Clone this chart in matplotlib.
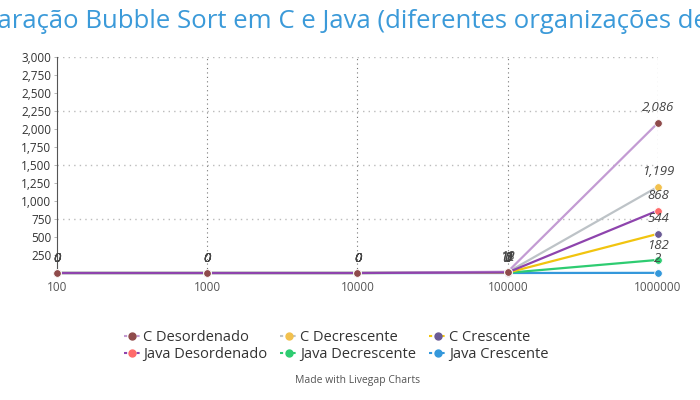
import matplotlib
matplotlib.use("Agg")
import matplotlib.pyplot as plt
from matplotlib.lines import Line2D
from matplotlib.ticker import FuncFormatter

plt.rcParams['font.family'] = ['Open Sans', 'DejaVu Sans']

sizes = ["100", "1000", "10000", "100000", "1000000"]
series_names = ["C Desordenado", "C Decrescente", "C Crescente",
                "Java Desordenado", "Java Decrescente", "Java Crescente"]
c_desordenado = [0, 0, 0, 18, 2086]
c_decrescente = [0, 0, 0, 12, 1199]
c_crescente = [0, 0, 0, 5, 544]
java_desordenado = [0, 0, 0, 8, 868]
java_decrescente = [0, 0, 0, 2, 182]
java_crescente = [0, 0, 0, 0, 2]
series_values = [c_desordenado, c_decrescente, c_crescente,
                 java_desordenado, java_decrescente, java_crescente]

line_colors = ["#c39bd3", "#bdc3c7", "#f1c40f", "#8e44ad", "#2ecc71", "#3498db"]
marker_colors = ["#8f4b4b", "#f2c14e", "#6b5b95", "#ff6b6b", "#2ecc71", "#3498db"]

fig = plt.figure(figsize=(7, 4), dpi=100)
ax = fig.add_axes([0.0814, 0.3175, 0.8586, 0.54])
xs = list(range(len(sizes)))

# linhas: Java Desordenado por cima no trecho plano
line_order = [5, 4, 2, 1, 0, 3]
for i in line_order:
    ax.plot(xs, series_values[i], color=line_colors[i], lw=1.6, zorder=3,
            solid_capstyle="butt", clip_on=False)
# marcadores: C Desordenado por cima
for i in reversed(range(len(series_names))):
    ax.plot(xs, series_values[i], ls="none", marker="o", ms=5.5,
            mfc=marker_colors[i], mec="white", mew=0.6, zorder=4, clip_on=False)
    for x, v in zip(xs, series_values[i]):
        ax.annotate(f"{v:,}", (x, v), xytext=(0, 6), textcoords="offset points",
                    ha="center", va="bottom", fontsize=9.5, style="italic",
                    color="#444444", zorder=5)

ax.set_xlim(0, 4)
ax.set_ylim(0, 3000)
ax.set_xticks(xs)
ax.set_xticklabels(sizes)
yt = list(range(250, 3001, 250))
ax.set_yticks(yt)
ax.yaxis.set_major_formatter(FuncFormatter(lambda v, p: f"{int(v):,}"))
ax.tick_params(axis="y", labelsize=8.5, colors="#333333", length=2, width=0.6,
               color="#aaaaaa", pad=2)
ax.tick_params(axis="x", labelsize=8.5, colors="#555555", length=0, pad=6)

for v in yt:
    if v % 750 == 0:
        ax.axhline(v, color="#bbbbbb", lw=1, ls=(0, (1, 3)), zorder=1)
for x in xs[1:]:
    ax.axvline(x, color="#777777", lw=0.8, ls=(0, (1, 3)), zorder=1)

for s in ["top", "right", "bottom"]:
    ax.spines[s].set_visible(False)
ax.spines["left"].set_color("#555555")
ax.spines["left"].set_linewidth(0.8)

fig.text(0.515, 0.945, "Comparação Bubble Sort em C e Java (diferentes organizações de dados)",
         ha="center", va="center", fontsize=18.5, color="#3b9ad9")

# legenda preenchida por linhas (matplotlib preenche por colunas)
order = [0, 3, 1, 4, 2, 5]
handles = [Line2D([0], [0], color=line_colors[i], ls=(0, (1.5, 1.5)), lw=1.5,
                  marker="o", ms=5, mfc=marker_colors[i], mec=marker_colors[i])
           for i in order]
fig.legend(handles, [series_names[i] for i in order], loc="center",
           bbox_to_anchor=(0.48, 0.135), ncol=3, frameon=False, fontsize=10.5,
           handlelength=1.2, handletextpad=0.15, columnspacing=0.9,
           labelspacing=0.15, labelcolor="#333333")

fig.text(0.511, 0.05, "Made with Livegap Charts", ha="center", va="center",
         fontsize=7.5, color="#555555")

fig.savefig("out.png", dpi=100, facecolor="white")
